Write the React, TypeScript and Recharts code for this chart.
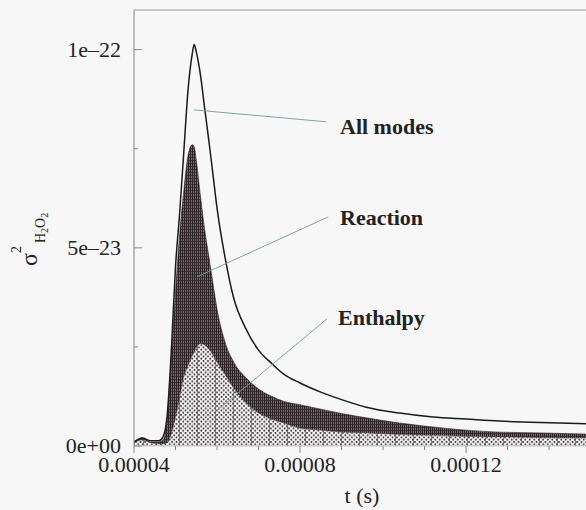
import { ComposedChart, Area, Line, XAxis, YAxis, ReferenceLine } from 'recharts'

// time in microseconds, variances in units of 1e-22
const timeUs = [40, 42, 44, 46, 47, 48, 49, 50, 51, 52, 53, 54, 54.5, 55, 56, 57, 58, 59, 60, 62, 64, 67, 70, 73, 76, 80, 85, 90, 96, 104, 112, 120, 128, 138, 148.9]
const allModes = [0.010, 0.020, 0.013, 0.013, 0.023, 0.078, 0.242, 0.452, 0.588, 0.742, 0.896, 0.987, 1.013, 0.995, 0.937, 0.854, 0.773, 0.687, 0.601, 0.472, 0.374, 0.295, 0.242, 0.210, 0.182, 0.159, 0.136, 0.117, 0.098, 0.083, 0.073, 0.068, 0.063, 0.059, 0.056]
const reaction = [0.010, 0.020, 0.010, 0.010, 0.015, 0.066, 0.222, 0.389, 0.535, 0.644, 0.732, 0.760, 0.755, 0.722, 0.631, 0.548, 0.480, 0.412, 0.346, 0.260, 0.212, 0.172, 0.144, 0.126, 0.113, 0.104, 0.093, 0.082, 0.071, 0.058, 0.048, 0.040, 0.035, 0.033, 0.030]
const enthalpy = [0.008, 0.015, 0.008, 0.005, 0.005, 0.008, 0.030, 0.071, 0.121, 0.174, 0.202, 0.227, 0.237, 0.247, 0.258, 0.255, 0.245, 0.230, 0.212, 0.179, 0.146, 0.109, 0.083, 0.068, 0.058, 0.045, 0.040, 0.035, 0.033, 0.029, 0.027, 0.024, 0.023, 0.021, 0.020]

const xTicks = [40, 50, 60, 70, 80, 90, 100, 110, 120, 130, 140]
const xMajor = [40, 80, 120]
const yTicks = [0, 0.25, 0.5, 0.75, 1]
const yLabels: Record<number, string> = { 0: '0e+00', 0.5: '5e\u201323', 1: '1e\u201322' }

// leader lines from curve to its annotation, [t1, v1, t2, v2]
const leaders = [
  [54.46, 0.848, 86.3, 0.818],
  [55.2, 0.427, 86.8, 0.578],
  [60.2, 0.091, 86.5, 0.321],
]
const annotations = [
  { text: 'All modes', x: 340, y: 134 },
  { text: 'Reaction', x: 340, y: 225 },
  { text: 'Enthalpy', x: 338, y: 325 },
]

const data = timeUs.map((t, i) => ({
  t,
  all: allModes[i],
  reaction: reaction[i],
  enthalpy: enthalpy[i],
}))

const serif = '"Liberation Serif", "Times New Roman", serif'

const XTick = (props: any) => {
  const { x, y, payload } = props
  const major = xMajor.includes(payload.value)
  return (
    <g>
      <line x1={x} x2={x} y1={y} y2={y + (major ? 7 : 4)} stroke="#888" />
      {major && (
        <text x={x} y={y + 26} textAnchor="middle" fontFamily={serif} fontSize={22} fill="#222">
          {(payload.value * 1e-6).toFixed(5)}
        </text>
      )}
    </g>
  )
}

const YTick = (props: any) => {
  const { x, y, payload } = props
  const label = yLabels[payload.value]
  return (
    <g>
      <line x1={x} x2={x + (label ? 8 : 4)} y1={y} y2={y} stroke="#888" />
      {label && (
        <text x={x - 13} y={y + 7} textAnchor="end" fontFamily={serif} fontSize={22} fill="#222">
          {label}
        </text>
      )}
    </g>
  )
}

export default function App() {
  return (
    <div style={{ position: 'absolute', left: 0, top: 0, width: 586, height: 510, background: '#f7f7f7' }}>
      <ComposedChart width={586} height={510} data={data} margin={{ top: 10, right: 0, bottom: 24, left: 0 }}>
        <defs>
          <pattern id="reactPat" width="2" height="3" patternUnits="userSpaceOnUse">
            <rect width="2" height="3" fill="#7a6a70" />
            <rect width="1" height="3" fill="#2c2226" />
            <rect x="1" y="1" width="1" height="1" fill="#42363b" />
          </pattern>
          <pattern id="enthPat" width="18" height="4.5" patternUnits="userSpaceOnUse">
            <rect width="18" height="4.5" fill="#f3f1f1" />
            {[1, 5.5, 10, 14.5].map((cx) => (
              <circle key={'a' + cx} cx={cx} cy={1} r={1} fill="#3e353a" />
            ))}
            {[3.25, 7.75, 12.25, 16.75].map((cx) => (
              <circle key={'b' + cx} cx={cx} cy={3.25} r={1} fill="#3e353a" />
            ))}
            <rect x="17.4" width="0.8" height="4.5" fill="#4a4045" />
          </pattern>
        </defs>
        <XAxis
          type="number"
          dataKey="t"
          domain={[40, 148.9]}
          ticks={xTicks}
          interval={0}
          allowDataOverflow
          height={40}
          tickSize={0}
          tickMargin={0}
          tick={<XTick />}
          axisLine={{ stroke: '#c4cccc' }}
        />
        <YAxis
          type="number"
          domain={[0, 1.1]}
          ticks={yTicks}
          interval={0}
          allowDataOverflow
          width={134}
          tickSize={0}
          tickMargin={0}
          tick={<YTick />}
          axisLine={{ stroke: '#808080' }}
        />
        <ReferenceLine y={1.1} stroke="#b4bcbc" strokeWidth={1.5} />
        <Area
          type="monotone"
          dataKey="reaction"
          stroke="#2c2226"
          strokeWidth={0.6}
          fill="url(#reactPat)"
          fillOpacity={1}
          isAnimationActive={false}
        />
        <Area
          type="monotone"
          dataKey="enthalpy"
          stroke="#6a6066"
          strokeWidth={0.5}
          fill="url(#enthPat)"
          fillOpacity={1}
          isAnimationActive={false}
        />
        <Line
          type="monotone"
          dataKey="all"
          stroke="#1e1a1c"
          strokeWidth={1.5}
          dot={false}
          isAnimationActive={false}
        />
        {leaders.map(([t1, v1, t2, v2], i) => (
          <ReferenceLine
            key={i}
            segment={[{ x: t1, y: v1 }, { x: t2, y: v2 }]}
            stroke="#6f9c9c"
            strokeWidth={0.9}
          />
        ))}
      </ComposedChart>
      <svg width={586} height={510} style={{ position: 'absolute', left: 0, top: 0, pointerEvents: 'none' }}>
        {annotations.map((a) => (
          <text key={a.text} x={a.x} y={a.y} fontFamily={serif} fontWeight="bold" fontSize={22} fill="#222">
            {a.text}
          </text>
        ))}
        <text x={362} y={503} textAnchor="middle" fontFamily={serif} fontSize={22} fill="#222">
          t (s)
        </text>
        <text transform="translate(37,266) rotate(-90)" fontFamily={serif} fontSize={24} fill="#222">
          σ
        </text>
        <text transform="translate(21,253) rotate(-90)" fontFamily={serif} fontSize={14} fill="#222">
          2
        </text>
        <text transform="translate(45,243) rotate(-90)" fontFamily={serif} fontSize={14} fill="#222">
          H<tspan fontSize={10} dy={3}>2</tspan>
          <tspan fontSize={14} dy={-3}>O</tspan>
          <tspan fontSize={10} dy={3}>2</tspan>
        </text>
      </svg>
    </div>
  )
}
